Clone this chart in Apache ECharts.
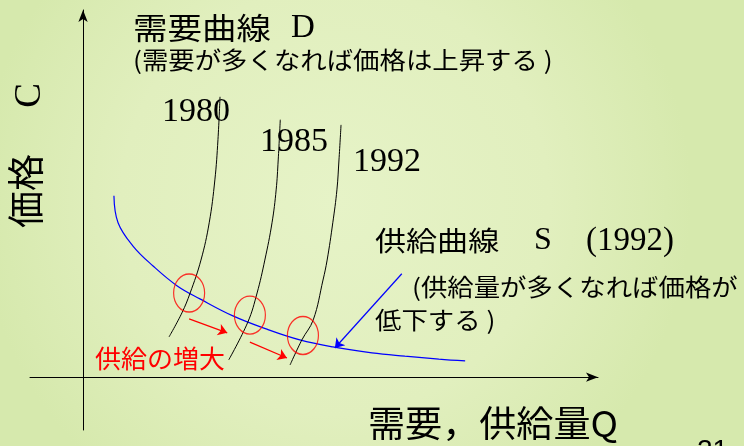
<!DOCTYPE html>
<html>
<head>
<meta charset="utf-8">
<script src="https://cdn.jsdelivr.net/npm/echarts@6/dist/echarts.min.js"></script>
<style>
  html, body { margin: 0; padding: 0; }
  #main { width: 744px; height: 446px; }
</style>
</head>
<body>
<div id="main"></div>
<script>
// 供給曲線 S (1992)
var supplyQ = [0.60, 0.68, 0.97, 1.36, 1.83, 2.27, 2.91, 3.57, 4.21, 4.85, 5.61, 6.25, 6.91, 7.42];
var supplyP = [4.91, 4.18, 3.55, 3.01, 2.47, 2.12, 1.66, 1.30, 1.01, 0.82, 0.66, 0.57, 0.49, 0.44];

// 需要曲線 D
var d1980Q = [1.67, 1.92, 2.08, 2.29, 2.45, 2.56, 2.62, 2.66];
var d1980P = [1.09, 1.74, 2.28, 3.17, 4.18, 5.34, 6.43, 7.59];
var d1985Q = [2.83, 3.20, 3.38, 3.53, 3.67, 3.75, 3.79, 3.83];
var d1985P = [0.47, 1.49, 2.28, 3.17, 4.18, 5.07, 5.88, 6.97];
var d1992Q = [4.02, 4.25, 4.47, 4.66, 4.74, 4.85, 4.93, 4.97, 5.01];
var d1992P = [0.33, 1.01, 1.55, 2.63, 3.17, 4.18, 5.07, 5.88, 6.83];

// 均衡点 (赤い丸)
var eqQ = [2.06, 3.24, 4.27];
var eqP = [2.28, 1.68, 1.13];

// 矢印 [始点Q, 始点P, 終点Q, 終点P]
var shiftArrows = [[2.06, 1.58, 2.80, 1.20], [3.24, 0.95, 3.96, 0.52]];
var pointerArrow = [6.19, 2.80, 4.89, 0.79];

var yearLabels = ['1980', '1985', '1992'];

function pairs(xs, ys) {
    var out = [];
    for (var i = 0; i < xs.length; i++) out.push([xs[i], ys[i]]);
    return out;
}

var CJK = '"Noto Sans CJK JP"';
var SERIF = '"Liberation Serif", "Noto Sans CJK JP"';

function txt(str, x, y, font, opts) {
    opts = opts || {};
    return {
        type: 'text',
        x: x,
        y: y,
        scaleX: opts.sx || 1,
        rotation: opts.rot || 0,
        silent: true,
        style: {
            text: str,
            x: 0,
            y: 0,
            font: font,
            fill: opts.color || '#000',
            textAlign: 'left',
            textVerticalAlign: opts.va || 'middle'
        }
    };
}

(function () {
    var myChart = echarts.init(document.getElementById('main'));

    var demandLine = function (name, q, p) {
        return {
            name: name,
            type: 'line',
            data: pairs(q, p),
            smooth: 0.4,
            showSymbol: false,
            lineStyle: { color: '#000', width: 1 },
            z: 3
        };
    };

    var axisStyle = {
        type: 'value',
        axisLine: {
            show: true, onZero: true,
            symbol: ['none', 'arrow'], symbolSize: [7, 12],
            lineStyle: { color: '#000', width: 1 }
        },
        axisTick: { show: false },
        axisLabel: { show: false },
        splitLine: { show: false }
    };

    var option = {
        animation: false,
        backgroundColor: {
            type: 'radial', x: 0.45, y: 0.45, r: 0.8,
            colorStops: [
                { offset: 0, color: '#e6f3c7' },
                { offset: 0.6, color: '#e1efbe' },
                { offset: 1, color: '#d6e9ad' }
            ]
        },
        grid: { left: 30, right: 146, top: 10, bottom: 16 },
        xAxis: Object.assign({ min: -1.03, max: 10.0 }, axisStyle),
        yAxis: Object.assign({ min: -1.43, max: 9.94 }, axisStyle),
        series: [
            {
                name: '供給曲線',
                type: 'line',
                data: pairs(supplyQ, supplyP),
                smooth: 0.4,
                showSymbol: false,
                lineStyle: { color: '#0000ff', width: 1.2 },
                z: 3
            },
            demandLine(yearLabels[0], d1980Q, d1980P),
            demandLine(yearLabels[1], d1985Q, d1985P),
            demandLine(yearLabels[2], d1992Q, d1992P),
            {
                name: '均衡点',
                type: 'scatter',
                data: pairs(eqQ, eqP),
                symbol: 'circle',
                symbolSize: [31, 38],
                itemStyle: { color: 'rgba(0,0,0,0)', borderColor: '#ff0000', borderWidth: 1.3 },
                z: 4
            },
            {
                name: '供給の増大',
                type: 'lines',
                coordinateSystem: 'cartesian2d',
                symbol: ['none', 'arrow'],
                symbolSize: 9,
                lineStyle: { color: '#ff0000', width: 1.2, opacity: 1 },
                data: shiftArrows.map(function (a) {
                    return { coords: [[a[0], a[1]], [a[2], a[3]]] };
                }),
                z: 4
            },
            {
                name: '矢印',
                type: 'lines',
                coordinateSystem: 'cartesian2d',
                symbol: ['none', 'arrow'],
                symbolSize: 9,
                lineStyle: { color: '#0000ff', width: 1.2, opacity: 1 },
                data: [{ coords: [[pointerArrow[0], pointerArrow[1]], [pointerArrow[2], pointerArrow[3]]] }],
                z: 4
            }
        ],
        graphic: [
            txt('需要曲線', 133, 28, '30px ' + CJK, { sx: 1.15 }),
            txt('D', 291, 28, '33px ' + SERIF),
            txt('(需要が多くなれば価格は上昇する )', 133, 60, '24px ' + CJK, { sx: 1.1 }),
            txt(yearLabels[0], 162, 112, '34px ' + SERIF),
            txt(yearLabels[1], 260, 142, '34px ' + SERIF),
            txt(yearLabels[2], 353, 162, '34px ' + SERIF),
            txt('供給曲線', 375, 241, '27px ' + CJK, { sx: 1.15 }),
            txt('S', 534, 241, '32px ' + SERIF),
            txt('(1992)', 586, 241, '33px ' + SERIF),
            txt('(供給量が多くなれば価格が', 412, 287, '24px ' + CJK, { sx: 1.1 }),
            txt('低下する )', 375, 320, '24px ' + CJK, { sx: 1.1 }),
            txt('供給の増大', 95, 358, '25px ' + CJK, { sx: 1.04, color: '#ff0000' }),
            txt('需要，供給量Q', 368, 423, '36px ' + CJK, { sx: 1.03 }),
            txt('価格　 C', 30, 228, '37px ' + SERIF, { rot: Math.PI / 2 }),
            txt('21', 697, 437, '28px "Liberation Sans"', { va: 'top' })
        ]
    };

    myChart.setOption(option);

    window.addEventListener('resize', function () {
        myChart.resize();
    });
})();
</script>
</body>
</html>
